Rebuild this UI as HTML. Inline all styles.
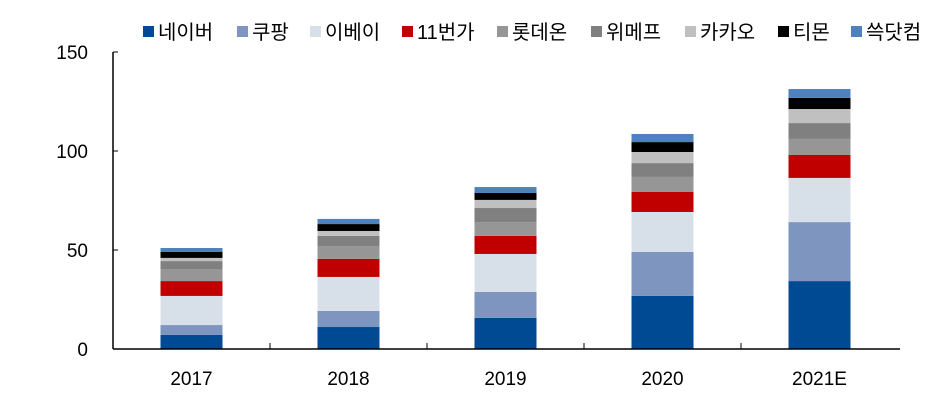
<!DOCTYPE html>
<html><head><meta charset="utf-8"><style>
body{margin:0;background:#fff;width:940px;height:401px;overflow:hidden;font-family:"Liberation Sans","Noto Sans CJK KR",sans-serif}
svg text{font-family:"Liberation Sans","Noto Sans CJK KR",sans-serif}
</style></head><body>
<svg id="chart" width="940" height="401"></svg>
<script>
const categories=["2017","2018","2019","2020","2021E"];
const seriesNames=["네이버","쿠팡","이베이","11번가","롯데온","위메프","카카오","티몬","쓱닷컴"];
const naver=[7.1,11.1,15.7,26.8,34.3];
const coupang=[5.0,8.1,13.1,22.2,29.8];
const ebay=[14.7,17.2,19.2,20.2,22.3];
const st11=[7.5,9.1,9.1,10.1,11.6];
const lotteon=[6.1,6.5,7.0,7.6,8.1];
const wemakeprice=[4.0,5.1,7.1,7.0,8.0];
const kakao=[1.6,2.5,4.1,5.6,7.1];
const tmon=[3.0,3.5,3.5,5.0,5.6];
const ssg=[2.0,2.6,3.0,4.1,4.5];
const yTicks=[0,50,100,150];
const seriesData=[naver,coupang,ebay,st11,lotteon,wemakeprice,kakao,tmon,ssg];
const colors=["#004a94","#7e95c0","#d7e0e8","#c00000","#969696","#808080","#c0c0c0","#000000","#4f81bd"];
const slugs=["naver","coupang","ebay","11st","lotteon","wemakeprice","kakao","tmon","ssg"];
const NS="http://www.w3.org/2000/svg";
const svg=document.getElementById("chart");
const x0=113,x1=898,y0=349,y150=52;
const yScale=v=>y0-(v/150)*(y0-y150);
const band=(x1-x0)/categories.length;
const xCenter=i=>x0+band*(i+0.5);
const barW=62;
function mk(tag,attrs){const e=document.createElementNS(NS,tag);for(const k in attrs)e.setAttribute(k,attrs[k]);svg.appendChild(e);return e;}
// y ticks
yTicks.forEach(t=>{
  const tx=mk("text",{x:88,y:yScale(t)+7,"text-anchor":"end","font-size":"19",fill:"#000"});
  tx.textContent=t;
  
  
  const tk=mk("line",{x1:x0,x2:x0+5,y1:yScale(t),y2:yScale(t),stroke:"#000","stroke-width":1});
  
  
});
// bars
categories.forEach((c,i)=>{
  let acc=0;
  seriesData.forEach((s,j)=>{
    const v=s[i];
    const r=mk("rect",{x:xCenter(i)-barW/2,y:yScale(acc+v),width:barW,height:yScale(acc)-yScale(acc+v),fill:colors[j]});
    
    
    acc+=v;
  });
  const lb=mk("text",{x:xCenter(i),y:385,"text-anchor":"middle","font-size":"19",fill:"#000"});
  lb.textContent=c;
  
  
  if(i>0){
    const tk=mk("line",{x1:x0+band*i,x2:x0+band*i,y1:y0,y2:y0-6,stroke:"#000","stroke-width":1});
    
    
  }
});
const ya=mk("line",{x1:x0,x2:x0,y1:y150,y2:y0,stroke:"#000","stroke-width":1.5});


const xa=mk("line",{x1:x0,x2:x1+2,y1:y0,y2:y0,stroke:"#000","stroke-width":1.5});


// legend
const legX=[143,237,310,402,497,591,685,778,851];
seriesNames.forEach((n,j)=>{
  const sq=mk("rect",{x:legX[j],y:26,width:11,height:11,fill:colors[j]});
  
  
  const t=mk("text",{x:legX[j]+15,y:39,"font-size":"20",fill:"#000"});
  t.textContent=n;
  
  
});
</script>
</body></html>
